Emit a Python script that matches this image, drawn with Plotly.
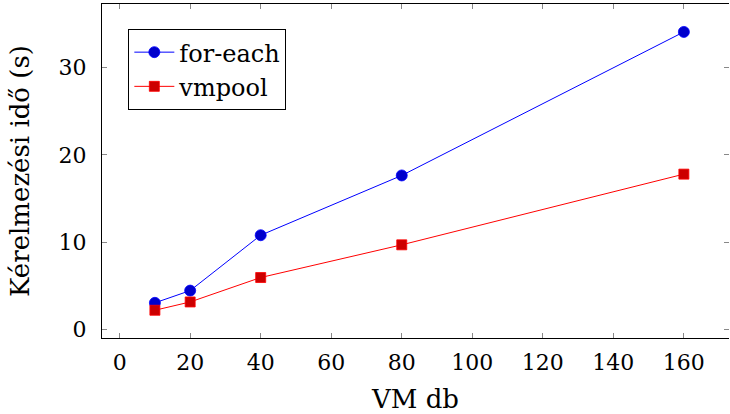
import plotly.graph_objects as go

vm_counts = [10, 20, 40, 80, 160]
for_each = [3.05, 4.45, 10.8, 17.65, 34.1]
vmpool = [2.2, 3.15, 5.95, 9.7, 17.8]
x_ticks = [0, 20, 40, 60, 80, 100, 120, 140, 160]
y_ticks = [0, 10, 20, 30]

FONT = "DejaVu Serif"

fig = go.Figure()
fig.add_trace(go.Scatter(
    x=vm_counts, y=for_each, mode="lines+markers", name="for-each",
    line=dict(color="#0000ff", width=1),
    marker=dict(symbol="circle", size=11, color="#0000cc", line=dict(color="#0000ff", width=0.8)),
))
fig.add_trace(go.Scatter(
    x=vm_counts, y=vmpool, mode="lines+markers", name="vmpool",
    line=dict(color="#ff0000", width=1),
    marker=dict(symbol="square", size=10, color="#cc0000", line=dict(color="#ff0000", width=0.8)),
))
fig.add_trace(go.Scatter(x=[None], y=[None], yaxis="y2", showlegend=False, hoverinfo="skip"))

fig.update_layout(
    width=730, height=414,
    margin=dict(l=102, r=1, t=4, b=76),
    paper_bgcolor="white", plot_bgcolor="white",
    font=dict(family=FONT, size=22, color="black"),
    showlegend=True,
    legend=dict(
        x=0.042, y=0.925, xanchor="left", yanchor="top",
        bordercolor="black", borderwidth=1, bgcolor="white",
        font=dict(family=FONT, size=24),
        tracegroupgap=0, itemwidth=40,
    ),
    xaxis=dict(
        range=[-5, 172.8], tickvals=x_ticks, ticktext=[str(v) for v in x_ticks],
        ticks="inside", ticklen=5, tickcolor="#888", tickwidth=1,
        showline=True, linecolor="black", linewidth=1, mirror="ticks",
        showgrid=False, zeroline=False, automargin=False,
        tickfont=dict(family=FONT, size=22), ticklabelstandoff=5,
        title=dict(text="VM db", font=dict(family=FONT, size=26), standoff=15),
    ),
    yaxis=dict(
        range=[-0.98, 37.3], tickvals=y_ticks, ticktext=[str(v) for v in y_ticks],
        ticks="inside", ticklen=5, tickcolor="#888", tickwidth=1,
        showline=True, linecolor="black", linewidth=1,
        showgrid=False, zeroline=False, automargin=False,
        tickfont=dict(family=FONT, size=22), ticklabelstandoff=10,
        title=dict(text="Kérelmezési idő (s)", font=dict(family=FONT, size=26), standoff=21),
    ),
    yaxis2=dict(
        overlaying="y", side="right", matches="y", range=[-0.98, 37.3],
        tickvals=y_ticks, showticklabels=False, automargin=False,
        ticks="inside", ticklen=5, tickcolor="#888", tickwidth=1,
        showline=False, showgrid=False, zeroline=False,
    ),
)

fig.write_html(
    "out.html",
    config={"displayModeBar": False},
    post_script="document.body.style.margin='0';document.body.style.padding='0';",
)
